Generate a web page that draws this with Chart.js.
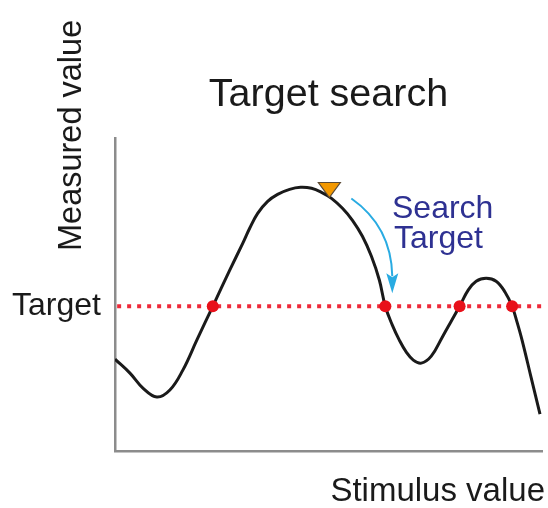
<!DOCTYPE html>
<html>
<head>
<meta charset="utf-8">
<title>Target search</title>
<style>
  html, body { margin: 0; padding: 0; background: #ffffff; }
  #wrap { width: 548px; height: 508px; }
</style>
<script src="https://cdn.jsdelivr.net/npm/chart.js@4/dist/chart.umd.min.js"></script>
</head>
<body>
<div id="wrap"><canvas id="chart" width="548" height="508"></canvas></div>
<script>
// Response curve: measured value against stimulus value (both in 0–100 units)
const CURVE_X = [0, 3.5, 6.54, 9.81, 12.85, 15.89, 19.16, 22.9, 26.87, 29.91, 31.54, 33.41, 35.75, 38.08, 40.89, 43.46, 46.03, 48.36, 50.7, 53.27, 55.61, 57.94, 60.05, 61.92, 63.3, 64.95, 66.59, 68.22, 69.86, 71.73, 74.07, 76.64, 78.74, 80.7, 82.71, 84.58, 86.92, 89.25, 91.36, 93.0, 94.16, 95.33, 97.43, 99.53];
const CURVE_Y = [29.39, 24.92, 20.13, 17.25, 19.49, 25.88, 35.46, 46.3, 57.83, 66.45, 71.25, 76.04, 79.87, 82.11, 83.71, 84.35, 84.03, 82.75, 80.83, 77.64, 73.8, 68.69, 62.3, 54.63, 46.3, 40.26, 35.46, 31.63, 29.07, 28.12, 30.35, 36.42, 41.53, 46.3, 51.44, 54.31, 55.27, 54.31, 50.8, 46.3, 41.21, 35.46, 23.64, 11.82];

// Target level and the stimulus values where the curve meets it
const TARGET = 46.3;
const CROSS_X = [22.9, 63.3, 80.7, 93.0];

// Where the search starts (current stimulus / measured value)
const START_X = [50.2];
const START_Y = [81.1];

// Texts
const CHART_TITLE = 'Target search';
const X_TITLE = 'Stimulus value';
const Y_TITLE = 'Measured value';
const TARGET_LABEL = 'Target';
const SEARCH_LABEL = ['Search', 'Target'];

const FONT = "'Liberation Sans', Arial, Helvetica, sans-serif";
const INK = '#1a1a1a';
const AXIS = '#8c8c8c';

const curvePoints = CURVE_X.map((x, i) => ({ x, y: CURVE_Y[i] }));
const crossPoints = CROSS_X.map(x => ({ x, y: TARGET }));

// Start marker, search arrow and free-standing labels
const annotations = {
  id: 'annotations',
  afterDatasetsDraw(chart) {
    const { ctx, chartArea: ca, scales: { x, y } } = chart;
    ctx.save();

    // downward triangle whose tip sits on the curve
    const mx = x.getPixelForValue(START_X[0]);
    const my = y.getPixelForValue(START_Y[0]);
    ctx.beginPath();
    ctx.moveTo(mx - 11, my - 15);
    ctx.lineTo(mx + 11, my - 15);
    ctx.lineTo(mx, my);
    ctx.closePath();
    ctx.fillStyle = '#f39800';
    ctx.fill();
    ctx.lineWidth = 1.2;
    ctx.strokeStyle = '#5b4a36';
    ctx.stroke();

    // curved arrow from the start point down to the next crossing
    const cx = x.getPixelForValue(CROSS_X[1]);
    const cy = y.getPixelForValue(TARGET);
    const sx = mx + 22, sy = my + 1;
    const ex = cx + 7, ey = cy - 30;
    ctx.beginPath();
    ctx.moveTo(sx, sy);
    ctx.quadraticCurveTo(ex - 1, sy + 28, ex, ey);
    ctx.lineWidth = 2;
    ctx.strokeStyle = '#29abe2';
    ctx.stroke();
    ctx.beginPath();
    ctx.moveTo(ex - 6, ey - 3);
    ctx.lineTo(ex, ey + 1);
    ctx.lineTo(ex + 6, ey - 3);
    ctx.lineTo(ex, cy - 13);
    ctx.closePath();
    ctx.fillStyle = '#29abe2';
    ctx.fill();

    // "Search Target" note
    ctx.fillStyle = '#2e3192';
    ctx.font = '32px ' + FONT;
    ctx.textAlign = 'left';
    ctx.textBaseline = 'alphabetic';
    ctx.fillText(SEARCH_LABEL[0], ca.left + 277, ca.top + 80);
    ctx.fillText(SEARCH_LABEL[1], ca.left + 279, ca.top + 110);

    // horizontal axis title, right-aligned under the axis end
    ctx.fillStyle = INK;
    ctx.font = '33px ' + FONT;
    ctx.textAlign = 'right';
    ctx.fillText(X_TITLE, ca.right + 3, ca.bottom + 50);

    // vertical axis title
    ctx.font = '32.5px ' + FONT;
    ctx.translate(ca.left - 34, ca.top - 3);
    ctx.rotate(-Math.PI / 2);
    ctx.textAlign = 'center';
    ctx.fillText(Y_TITLE, 0, 0);

    ctx.restore();
  }
};

new Chart(document.getElementById('chart'), {
  type: 'line',
  data: {
    datasets: [
      {
        label: 'Crossings',
        type: 'scatter',
        data: crossPoints,
        pointRadius: 6,
        pointHoverRadius: 6,
        pointBackgroundColor: '#e8101a',
        pointBorderWidth: 0,
        showLine: false,
        order: 0
      },
      {
        label: 'Response',
        data: curvePoints,
        borderColor: INK,
        borderWidth: 3,
        pointRadius: 0,
        tension: 0.4,
        fill: false,
        order: 1
      },
      {
        label: 'Target',
        data: [{ x: 0.5, y: TARGET }, { x: 101.2, y: TARGET }],
        borderColor: '#ee2a3a',
        borderWidth: 4,
        borderDash: [4, 6],
        borderCapStyle: 'butt',
        pointRadius: 0,
        fill: false,
        clip: { left: 0, top: 0, right: 8, bottom: 0 },
        order: 2
      }
    ]
  },
  options: {
    responsive: false,
    animation: false,
    devicePixelRatio: 1,
    events: [],
    layout: { padding: { left: 11, right: 5, top: 0, bottom: 0 } },
    plugins: {
      legend: { display: false },
      tooltip: { enabled: false },
      title: {
        display: true,
        text: CHART_TITLE,
        fullSize: false,
        color: INK,
        font: { family: FONT, size: 39.5, weight: 'normal' },
        padding: { top: 71, bottom: 20 }
      }
    },
    scales: {
      x: {
        type: 'linear',
        min: 0,
        max: 100,
        grid: { display: true, drawOnChartArea: false, drawTicks: false, color: 'transparent' },
        border: { display: true, color: AXIS, width: 2.5 },
        ticks: { display: false },
        afterFit(scale) { scale.height = 57; }
      },
      y: {
        type: 'linear',
        min: 0,
        max: 100,
        grid: { display: true, drawOnChartArea: false, drawTicks: false, color: 'transparent' },
        border: { display: true, color: AXIS, width: 2.5 },
        afterBuildTicks(scale) { scale.ticks = [{ value: TARGET }]; },
        ticks: {
          color: INK,
          font: { family: FONT, size: 32 },
          padding: 14,
          callback: () => TARGET_LABEL
        },
        afterFit(scale) { scale.width = 104; }
      }
    }
  },
  plugins: [annotations]
});
</script>
</body>
</html>
